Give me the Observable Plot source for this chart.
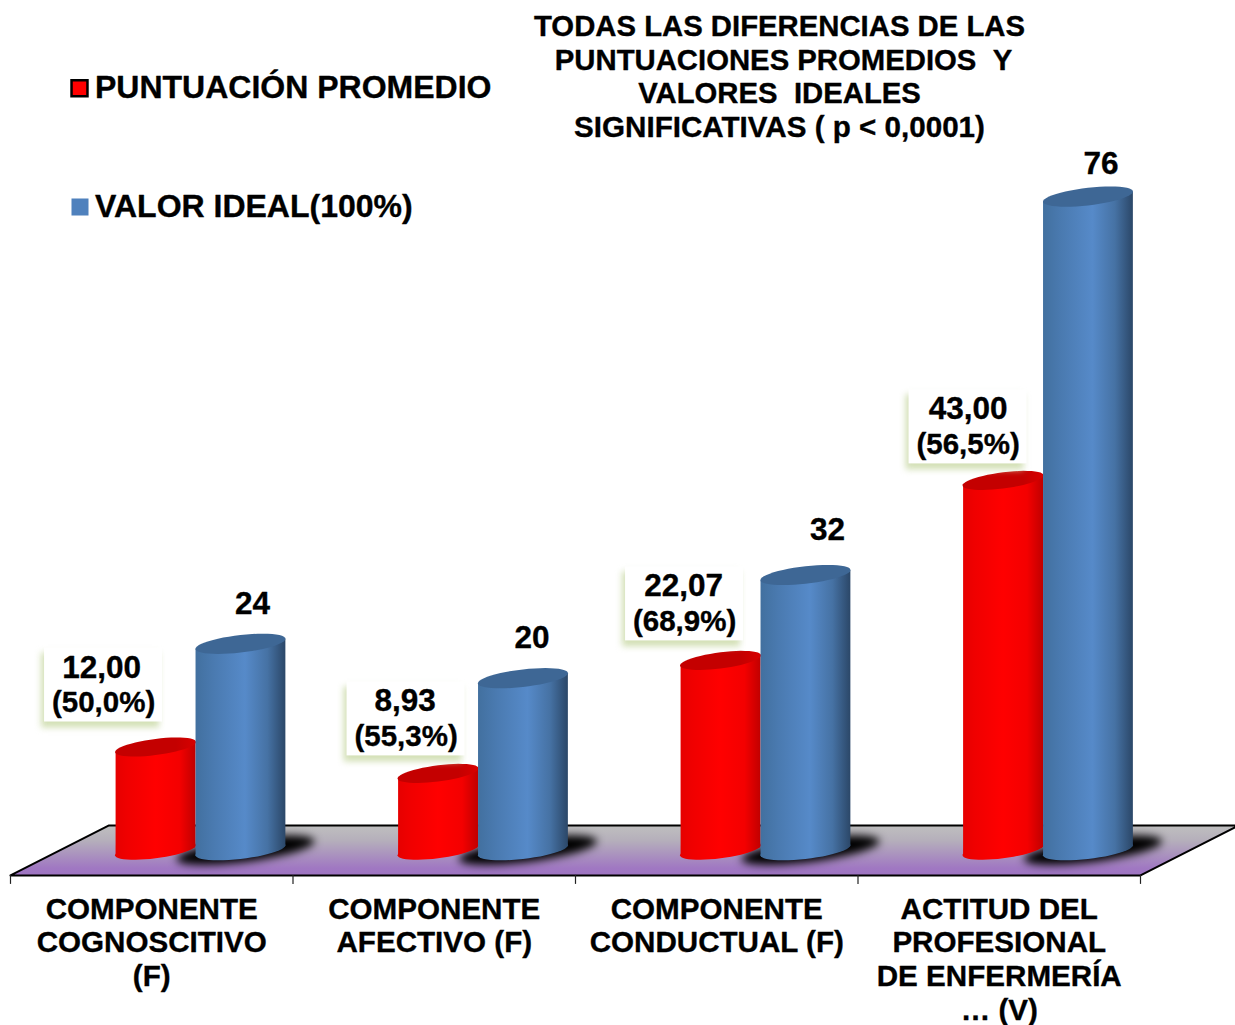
<!DOCTYPE html>
<html>
<head>
<meta charset="utf-8">
<script src="https://cdn.jsdelivr.net/npm/d3@7"></script>
<script src="https://cdn.jsdelivr.net/npm/@observablehq/plot@0.6"></script>
<style>
html,body{margin:0;padding:0;background:#fff;overflow:hidden}
svg{display:block}
.blur-shadow{filter:blur(4px)}
.blur-box{filter:blur(3px)}
</style>
</head>
<body>
<div id="chart"></div>
<script>
// ---- data ----
const categories = ["COMPONENTE\nCOGNOSCITIVO\n(F)", "COMPONENTE\nAFECTIVO (F)", "COMPONENTE\nCONDUCTUAL (F)", "ACTITUD DEL\nPROFESIONAL\nDE ENFERMERÍA\n… (V)"];
const puntuacion = [12.00, 8.93, 22.07, 43.00];
const valorIdeal = [24, 20, 32, 76];
const puntuacionText = ["12,00", "8,93", "22,07", "43,00"];
const porcentajeText = ["(50,0%)", "(55,3%)", "(68,9%)", "(56,5%)"];
const titleLines = ["TODAS LAS DIFERENCIAS DE LAS", "PUNTUACIONES PROMEDIOS\u00a0\u00a0Y", "VALORES\u00a0\u00a0IDEALES", "SIGNIFICATIVAS ( p < 0,0001)"];
const legendLabels = ["PUNTUACIÓN PROMEDIO", "VALOR IDEAL(100%)"];

// ---- layout (pixels, converted to data units below) ----
const pxX = 1 / 282.5, pxY = 1 / 8.6;
const redSpan = [0.372, 0.655], blueSpan = [0.655, 0.973];
const tilt = 5 * pxY;
const boxDx = [-52, -32, -36, -35], boxDy = [-62, -54.5, -56.5, -53.5];
const topDx = [-2, -1, -1, 0];
const blueDx = [12, 9, 22, 13], blueDy = [-40, -40.7, -45.5, -33];
const floorFront = -2.93, floorBack = 2.87, floorSkew = 0.347;
const titleDx = [779, 783, 779, 779], titleDy = [26, 60, 93, 127], titleSize = [29.3, 29.3, 29.3, 29.6];

const font = "Liberation Sans";
const idx = d3.range(categories.length);
const mid = s => (s[0] + s[1]) / 2;

function body(values, span) {
  return values.flatMap((v, i) => [
    {i, x: i + span[0], y: -tilt},
    {i, x: i + span[0], y: v - tilt},
    {i, x: i + span[1], y: v + tilt},
    {i, x: i + span[1], y: tilt}
  ]);
}
const ellipse = (k, b) => ({
  draw(ctx, size) {
    const a = Math.sqrt(size / Math.PI);
    for (let t = 0; t < 48; ++t) {
      const th = t / 48 * 2 * Math.PI;
      const px = a * Math.cos(th), py = a * b * Math.sin(th) - a * k * Math.cos(th);
      t ? ctx.lineTo(px, py) : ctx.moveTo(px, py);
    }
    ctx.closePath();
  }
});
const redEll = ellipse(0.125, 0.2), blueEll = ellipse(0.112, 0.195), shadowEll = ellipse(0.13, 0.17);

const floor = [
  {x: 0, y: floorFront}, {x: 4, y: floorFront},
  {x: 4 + floorSkew, y: floorBack}, {x: floorSkew, y: floorBack}, {x: 0, y: floorFront}
];

const cylinders = (values, span, grad, top, r, sym) => [
  Plot.line(body(values, span), {x: "x", y: "y", z: "i", fill: grad, stroke: "none"}),
  Plot.dot(idx, {x: i => i + mid(span), y: () => 0, r, symbol: sym, fill: grad, stroke: "none"}),
  Plot.dot(idx, {x: i => i + mid(span), y: i => values[i], r, symbol: sym, fill: top, stroke: "none"})
];

const boxX = i => i + mid(redSpan) + boxDx[i] * pxX;
const boxY = i => puntuacion[i] - boxDy[i] * pxY;
const textOpts = {fontFamily: font, fontWeight: "bold", fill: "#000", stroke: "#000", strokeWidth: 0.35};

const chart = Plot.plot({
  width: 1235, height: 1025,
  marginTop: 0, marginRight: 0, marginBottom: 0, marginLeft: 0,
  x: {domain: [0, 4], range: [10, 1140], axis: null},
  y: {domain: [0, 76], range: [849.7, 196.1], axis: null},
  style: {background: "#fff", overflow: "visible"},
  marks: [
    // floor and axis ticks
    Plot.line(floor, {x: "x", y: "y", fill: "url(#floorGrad)", stroke: "#000", strokeWidth: 2, strokeLinejoin: "miter"}),
    Plot.ruleX(d3.range(5), {x: d => d, y1: floorFront, y2: floorFront - 9 * pxY, stroke: "#222", strokeWidth: 1.2}),
    // shadows on the floor
    Plot.dot(idx, {x: i => i + mid(blueSpan) + 5 * pxX, y: () => 0, r: 69, symbol: shadowEll, fill: "#000", stroke: "none", className: "blur-shadow"}),
    // cylinders
    ...cylinders(puntuacion, redSpan, "url(#redGrad)", "url(#redTop)", 40.5, redEll),
    ...cylinders(valorIdeal, blueSpan, "url(#blueGrad)", "#3e6795", 45, blueEll),
    // boxed labels of the red cylinders
    Plot.rect(idx, {x1: i => boxX(i) - 62 * pxX, x2: i => boxX(i) + 56 * pxX, y1: i => boxY(i) + 32 * pxY, y2: i => boxY(i) - 43 * pxY, fill: "#d3e0b6", className: "blur-box"}),
    Plot.rect(idx, {x1: i => boxX(i) - 59 * pxX, x2: i => boxX(i) + 59 * pxX, y1: i => boxY(i) + 37 * pxY, y2: i => boxY(i) - 37 * pxY, fill: "#fff"}),
    Plot.text(idx, {...textOpts, x: i => boxX(i) + topDx[i] * pxX, y: i => boxY(i) + 17.5 * pxY, text: i => puntuacionText[i], fontSize: 31.5, textAnchor: "middle", lineAnchor: "middle"}),
    Plot.text(idx, {...textOpts, x: boxX, y: i => boxY(i) - 17.5 * pxY, text: i => porcentajeText[i], fontSize: 29.5, textAnchor: "middle", lineAnchor: "middle"}),
    // labels of the blue cylinders
    Plot.text(idx, {...textOpts, x: i => i + mid(blueSpan) + blueDx[i] * pxX, y: i => valorIdeal[i] - blueDy[i] * pxY, text: i => String(valorIdeal[i]), fontSize: 31.5, textAnchor: "middle", lineAnchor: "middle"}),
    // category labels
    Plot.text(idx, {...textOpts, x: i => i + 0.5, frameAnchor: "top", dy: 894.5, text: i => categories[i], fontSize: 29.6, lineHeight: 1.135, textAnchor: "middle", lineAnchor: "top"}),
    // title
    ...titleLines.map((t, i) => Plot.text([t], {...textOpts, frameAnchor: "top-left", dx: titleDx[i], dy: titleDy[i], fontSize: titleSize[i], textAnchor: "middle", lineAnchor: "middle"})),
    // legend
    Plot.dot([0], {frameAnchor: "top-left", dx: 79, dy: 87.7, r: 9, symbol: "square", fill: "#ff0000", stroke: "#000", strokeWidth: 2.5}),
    Plot.dot([1], {frameAnchor: "top-left", dx: 79.5, dy: 206.5, r: 9.6, symbol: "square", fill: "#4f81bd", stroke: "none"}),
    ...legendLabels.map((t, i) => Plot.text([t], {...textOpts, frameAnchor: "top-left", dx: 94.5, dy: [87, 206][i], fontSize: 32, textAnchor: "start", lineAnchor: "middle"}))
  ]
});

// gradients used by the floor and the cylinder bodies
const defs = d3.select(chart).insert("defs", ":first-child");
function gradient(id, stops, vertical) {
  const g = defs.append("linearGradient").attr("id", id)
    .attr("x1", 0).attr("y1", 0).attr("x2", vertical ? 0 : 1).attr("y2", vertical ? 1 : 0);
  stops.forEach(([o, c]) => g.append("stop").attr("offset", o).attr("stop-color", c));
}
gradient("floorGrad", [[0, "#bfbfbf"], [0.3, "#b5afbb"], [0.85, "#a078c2"], [1, "#9e74c2"]], true);
gradient("redGrad", [[0, "#e60000"], [0.15, "#f00000"], [0.5, "#ff0000"], [0.8, "#f40000"], [1, "#c00000"]], false);
gradient("redTop", [[0, "#c40000"], [0.75, "#c40000"], [1, "#d80000"]], false);
gradient("blueGrad", [[0, "#42709f"], [0.2, "#4a7ab0"], [0.55, "#568ac9"], [0.8, "#4672a4"], [1, "#2b4768"]], false);

document.getElementById("chart").appendChild(chart);
</script>
</body>
</html>
